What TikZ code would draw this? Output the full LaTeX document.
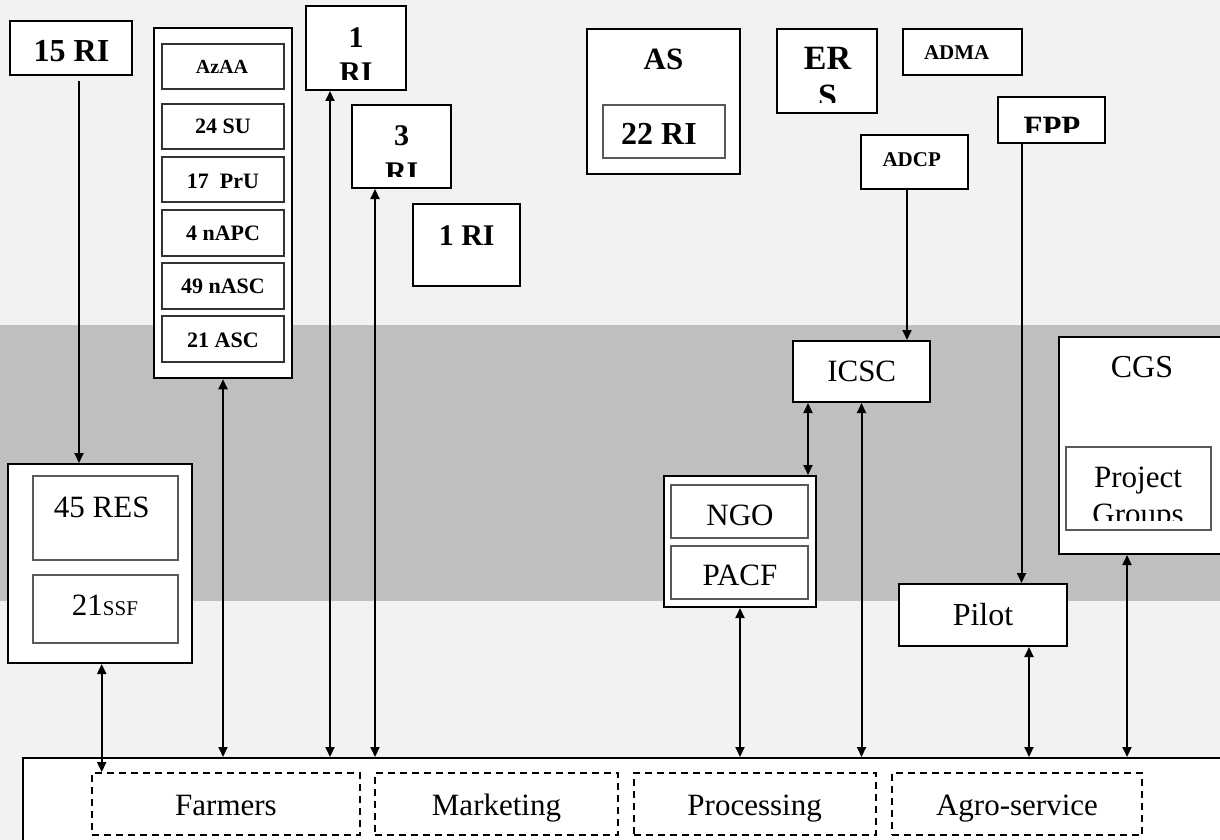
\documentclass[tikz,border=0pt]{standalone}
\usepackage{fontspec}
\setmainfont{Liberation Serif}
\usetikzlibrary{arrows.meta}
\definecolor{bgl}{HTML}{F2F2F2}
\definecolor{bgd}{HTML}{BFBFBF}
\newcommand{\mybf}[1]{\fontsize{#1}{#1}\selectfont\bfseries}
\newcommand{\myrm}[1]{\fontsize{#1}{#1}\selectfont}
\tikzset{
  obox/.style={draw=black, line width=2pt, fill=white, inner sep=0pt},
  ibox/.style={draw=black!65, line width=1.3pt, fill=white, inner sep=0pt},
  cbox/.style={draw=black!80, line width=1.5pt, fill=white, inner sep=0pt},
  dbox/.style={draw=black, line width=1.8pt, dash pattern=on 7pt off 5pt, inner sep=0pt},
  lbl/.style={anchor=base, inner sep=0pt, outer sep=0pt},
  arr/.style={line width=2pt, -{Triangle[length=10pt,width=9pt]}},
  dbl/.style={line width=2pt, {Triangle[length=10pt,width=9pt]}-{Triangle[length=10pt,width=9pt]}}
}
\begin{document}
\begin{tikzpicture}[x=1pt,y=-1pt]
\clip (0,0) rectangle (1220,840);
\fill[bgl] (0,0) rectangle (1220,840);
\fill[bgd] (0,325) rectangle (1220,601);

% 15 RI
\node[obox, minimum width=122pt, minimum height=54pt] (r15) at (71,48) {};
\node[lbl, font=\mybf{32}] (t15) at (71.5,62) {15 RI};

% column
\node[obox, line width=2.5pt, minimum width=138pt, minimum height=350pt] (col) at (223,203) {};
\node[cbox, minimum width=122pt, minimum height=45pt] (azaa) at (223,66.5) {};
\node[lbl, font=\mybf{20}] (tazaa) at (222,74) {AzAA};
\node[cbox, minimum width=122pt, minimum height=45pt] (su) at (223,126.5) {};
\node[lbl, font=\mybf{22}] (tsu) at (223,134) {24 SU};
\node[cbox, minimum width=122pt, minimum height=45pt] (pru) at (223,179.5) {};
\node[lbl, font=\mybf{22}] (tpru) at (223,188.3) {17\ \ PrU};
\node[cbox, minimum width=122pt, minimum height=46pt] (napc) at (223,233) {};
\node[lbl, font=\mybf{22}] (tnapc) at (223,240.7) {4 nAPC};
\node[cbox, minimum width=122pt, minimum height=46pt] (nasc) at (223,286) {};
\node[lbl, font=\mybf{22}] (tnasc) at (223,293.3) {49 nASC};
\node[cbox, minimum width=122pt, minimum height=46pt] (asc) at (223,339) {};
\node[lbl, font=\mybf{22}] (tasc) at (223,347.3) {21 ASC};

% 1 RI (clipped)
\node[obox, minimum width=100pt, minimum height=84pt] (ria) at (356,48) {};
\begin{scope}
\clip (306,6) rectangle (406,80);
\node[lbl, font=\mybf{30}] (tria1) at (356,47.7) {1};
\node[lbl, font=\mybf{30}] (tria2) at (356,83) {RI};
\end{scope}

% 3 RI (clipped)
\node[obox, minimum width=99pt, minimum height=83pt] (rib) at (401.5,146.5) {};
\begin{scope}
\clip (352,105) rectangle (451,176);
\node[lbl, font=\mybf{30}] (trib1) at (401.7,146) {3};
\node[lbl, font=\mybf{30}] (trib2) at (401.7,182) {RI};
\end{scope}

% 1 RI standalone
\node[obox, minimum width=107pt, minimum height=82pt] (ric) at (466.5,245) {};
\node[lbl, font=\mybf{30}] (tric) at (466.7,245) {1 RI};

% AS
\node[obox, minimum width=153pt, minimum height=145pt] (as) at (663.5,101.5) {};
\node[lbl, font=\mybf{31}] (tas) at (663.5,70) {AS};
\node[ibox, minimum width=122pt, minimum height=53pt] (ri22) at (664,131.5) {};
\node[lbl, font=\mybf{32}] (tri22) at (659,145) {22 RI};

% ERS (clipped)
\node[obox, minimum width=100pt, minimum height=84pt] (ers) at (827,71) {};
\begin{scope}
\clip (777,29) rectangle (877,103);
\node[lbl, font=\mybf{34}] (ters1) at (827.5,70) {ER};
\node[lbl, font=\mybf{34}] (ters2) at (827.5,107.5) {S};
\end{scope}

% ADMA
\node[obox, minimum width=119pt, minimum height=46pt] (adma) at (962.5,52) {};
\node[lbl, font=\mybf{21}] (tadma) at (956.7,60) {ADMA};

% FPP (clipped)
\node[obox, minimum width=107pt, minimum height=46pt] (fpp) at (1051.5,120) {};
\begin{scope}
\clip (998,97) rectangle (1105,132.7);
\node[lbl, font=\mybf{31}] (tfpp) at (1052,137) {FPP};
\end{scope}

% ADCP
\node[obox, minimum width=107pt, minimum height=54pt] (adcp) at (914.5,162) {};
\node[lbl, font=\mybf{21}] (tadcp) at (911.7,166.7) {ADCP};

% ICSC
\node[obox, minimum width=137pt, minimum height=61pt] (icsc) at (861.5,371.5) {};
\node[lbl, font=\myrm{31}] (ticsc) at (861.7,381.7) {ICSC};

% CGS
\node[obox, minimum width=176pt, minimum height=217pt] (cgs) at (1147,445.5) {};
\node[lbl, font=\myrm{32}] (tcgs) at (1142,377.3) {CGS};
\node[ibox, minimum width=145pt, minimum height=83pt] (pg) at (1138.5,488.5) {};
\begin{scope}
\clip (1066,447) rectangle (1211,520);
\node[lbl, font=\myrm{31}] (tpg1) at (1138,487.3) {Project};
\node[lbl, font=\myrm{31}] (tpg2) at (1138,524.6) {Groups};
\end{scope}

% Pilot
\node[obox, minimum width=168pt, minimum height=62pt] (pilot) at (983,615) {};
\node[lbl, font=\myrm{32}] (tpilot) at (983,625) {Pilot};

% NGO / PACF
\node[obox, minimum width=152pt, minimum height=131pt] (ngobox) at (740,541.5) {};
\node[ibox, minimum width=137pt, minimum height=53pt] (ngo) at (739.5,511.5) {};
\node[lbl, font=\myrm{31}] (tngo) at (740,525.3) {NGO};
\node[ibox, minimum width=137pt, minimum height=53pt] (pacf) at (739.5,572.5) {};
\node[lbl, font=\myrm{31}] (tpacf) at (740,585) {PACF};

% 45 RES / 21 SSF
\node[obox, minimum width=184pt, minimum height=199pt] (resbox) at (100,563.5) {};
\node[ibox, minimum width=145pt, minimum height=84pt] (res) at (105.5,518) {};
\node[lbl, font=\myrm{31}] (tres) at (101.7,517.3) {45 RES};
\node[ibox, minimum width=145pt, minimum height=68pt] (ssf) at (105.5,609) {};
\node[lbl, font=\myrm{31}] (tssf) at (105,615) {21{\myrm{21}SSF}};

% bottom box with dashed groups
\node[obox, minimum width=1217pt, minimum height=102pt] (bot) at (631.5,809) {};
\node[dbox, minimum width=268pt, minimum height=62pt] (farm) at (226,804) {};
\node[lbl, font=\myrm{31}] (tfarm) at (226,815) {Farmers};
\node[dbox, minimum width=243pt, minimum height=62pt] (mark) at (496.5,804) {};
\node[lbl, font=\myrm{31}] (tmark) at (496.5,815) {Marketing};
\node[dbox, minimum width=242pt, minimum height=62pt] (proc) at (754.6,804) {};
\node[lbl, font=\myrm{31}] (tproc) at (754.6,815) {Processing};
\node[dbox, minimum width=250.5pt, minimum height=62pt] (agro) at (1017,804) {};
\node[lbl, font=\myrm{31}] (tagro) at (1017,815) {Agro-service};

% connectors
\draw[arr] ([xshift=8pt,yshift=-5pt]r15.south) -- ([xshift=-21pt]resbox.north);
\draw[dbl] ([xshift=1.7pt]resbox.south) -- ([xshift=1.7pt]resbox.south |- farm.north);
\draw[dbl] (col.south) -- (col.south |- bot.north);
\draw[dbl] ([xshift=-26pt]ria.south) -- ([xshift=-26pt]ria.south |- bot.north);
\draw[dbl] ([xshift=-26.5pt]rib.south) -- ([xshift=-26.5pt]rib.south |- bot.north);
\draw[dbl] (ngobox.south) -- (ngobox.south |- bot.north);
\draw[dbl] ([xshift=68pt]ngobox.north) -- ([xshift=68pt]ngobox.north |- icsc.south);
\draw[dbl] (icsc.south) -- (icsc.south |- bot.north);
\draw[arr] ([xshift=-7.5pt]adcp.south) -- ([xshift=-7.5pt]adcp.south |- icsc.north);
\draw[arr] ([xshift=-30pt]fpp.south) -- ([xshift=-30pt]fpp.south |- pilot.north);
\draw[dbl] ([xshift=46pt]pilot.south) -- ([xshift=46pt]pilot.south |- bot.north);
\draw[dbl] ([xshift=-20pt]cgs.south) -- ([xshift=-20pt]cgs.south |- bot.north);
\end{tikzpicture}
\end{document}
